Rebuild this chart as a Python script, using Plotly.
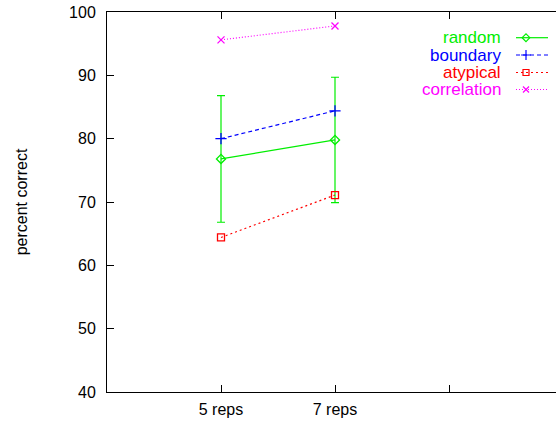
import plotly.graph_objects as go

categories = ["5 reps", "7 reps"]
tick_labels = ["5 reps", "7 reps", ""]
random_vals = [76.8, 79.8]
random_err = [10.0, 9.9]
boundary_vals = [80.0, 84.4]
atypical_vals = [64.4, 71.1]
correlation_vals = [95.6, 97.8]

x = list(range(1, len(categories) + 1))
FONT = "Liberation Sans, Arial, sans-serif"

series = [
    ("random", random_vals, "#00ee00", "solid", "diamond-open", 7, random_err),
    ("boundary", boundary_vals, "#0000ff", "4px,3px", "cross-thin-open", 8, None),
    ("atypical", atypical_vals, "#ff0000", "2px,3px", "square-open", 7, None),
    ("correlation", correlation_vals, "#ff00ff", "1px,2px", "x-thin-open", 7, None),
]

fig = go.Figure()
for name, vals, col, dash, sym, size, err in series:
    tr = go.Scatter(
        x=x, y=vals, mode="lines+markers", name=name,
        line=dict(color=col, width=1.2, dash=dash),
        marker=dict(symbol=sym, size=size, color=col, line=dict(color=col, width=1.3)),
        showlegend=False,
    )
    if err is not None:
        tr.error_y = dict(type="data", array=err, visible=True, color=col, thickness=1.2, width=4)
    fig.add_trace(tr)

# gnuplot-style key on an overlay axis measured in page pixels
row_y = [37.7, 55, 72.5, 89.5]
for (name, vals, col, dash, sym, size, err), ry in zip(series, row_y):
    fig.add_trace(go.Scatter(
        x=[516, 548], y=[ry, ry], mode="lines", xaxis="x2", yaxis="y2",
        line=dict(color=col, width=1.2, dash=dash), showlegend=False, hoverinfo="skip"))
    fig.add_trace(go.Scatter(
        x=[526], y=[ry], mode="markers", xaxis="x2", yaxis="y2",
        marker=dict(symbol=sym, size=size - 1, color=col, line=dict(color=col, width=1.2)),
        showlegend=False, hoverinfo="skip"))
    fig.add_annotation(x=503, y=ry, xref="x2", yref="y2", text=name, showarrow=False,
                       xanchor="right", yanchor="middle",
                       font=dict(family=FONT, size=17, color=col))

# plot frame runs past the window's right edge, as in the reference
fig.update_layout(
    width=563, height=421,
    margin=dict(l=107, r=0, t=12, b=29),
    plot_bgcolor="white", paper_bgcolor="white",
    font=dict(family=FONT, size=16, color="black"),
    xaxis=dict(range=[0, 4], tickvals=[1, 2, 3], ticktext=tick_labels,
               showline=True, linecolor="black", linewidth=1, mirror="ticks",
               ticks="inside", ticklen=7, tickcolor="black", showgrid=False,
               zeroline=False, tickfont=dict(size=16), ticklabelstandoff=3),
    yaxis=dict(range=[40, 100], dtick=10, showline=True, linecolor="black", linewidth=1,
               ticks="inside", ticklen=7, tickcolor="black", showgrid=False, zeroline=False,
               tickfont=dict(size=16), ticklabelstandoff=7,
               title=dict(text="percent correct", font=dict(size=16), standoff=37)),
    xaxis2=dict(overlaying="x", range=[107, 563], visible=False, fixedrange=True),
    yaxis2=dict(overlaying="y", range=[392, 12], visible=False, fixedrange=True),
)

fig.write_html(
    "out.html",
    config={"displayModeBar": False},
    post_script=("document.body.style.margin='0';document.body.style.overflow='hidden';"
                 "document.documentElement.style.overflow='hidden';"),
)
